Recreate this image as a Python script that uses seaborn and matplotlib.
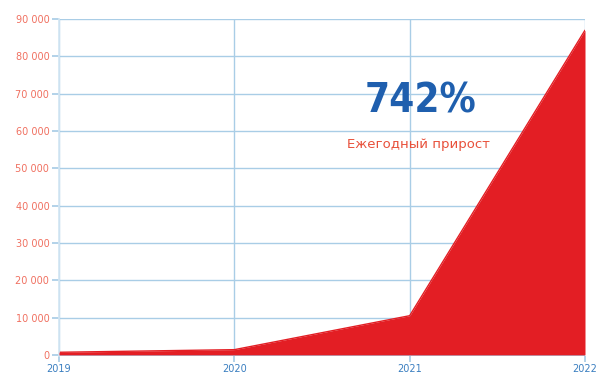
import matplotlib
matplotlib.use("Agg")
import matplotlib.pyplot as plt
import seaborn as sns
import pandas as pd
from matplotlib.ticker import FuncFormatter

years = [2019, 2020, 2021, 2022]
values = [700, 1400, 10500, 87000]
y_ticks = [0, 10000, 20000, 30000, 40000, 50000, 60000, 70000, 80000, 90000]
headline = "742%"
subtitle = "Ежегодный прирост"

df = pd.DataFrame({"year": years, "value": values})

sns.set_theme(style="white")
plt.rcParams['font.family'] = ['DejaVu Sans']

fig = plt.figure(figsize=(5.99, 3.83), dpi=100)
ax = fig.add_axes([59/599, 1 - 356/383, (585-59)/599, (356-19)/383])

grid_c = "#a9cde6"
red = "#e31e24"

sns.lineplot(data=df, x="year", y="value", ax=ax, color=red, linewidth=1)
ax.fill_between(df["year"], df["value"], 0, color=red, linewidth=0, zorder=3)

ax.set_xlim(2019, 2022)
ax.set_ylim(-300, 90000)
ax.set_xticks(years)
ax.set_yticks(y_ticks)
ax.yaxis.set_major_formatter(FuncFormatter(lambda v, p: f"{int(v):,}".replace(",", " ")))
ax.grid(True, color=grid_c, linewidth=1)
ax.set_axisbelow(True)
for s in ax.spines.values():
    s.set_visible(False)
ax.spines["left"].set_visible(True)
ax.spines["left"].set_color("#d3e6f3")
ax.tick_params(axis="y", length=5, color=grid_c, labelsize=7, labelcolor="#f07060", pad=2)
ax.tick_params(axis="x", length=4, color=grid_c, labelsize=7, labelcolor="#3a7ec0", pad=2, direction="out")
ax.tick_params(axis="both", which="both", left=True, bottom=True)
ax.set_xlabel("")
ax.set_ylabel("")

ax.text(2021.06, 68000, headline, color="#1f5fae", fontsize=29, fontweight="bold",
        fontstretch="condensed", ha="center", va="center", zorder=5)
ax.text(2021.05, 56500, subtitle, color="#e8503a", fontsize=9.5,
        ha="center", va="center", zorder=5)

fig.savefig("out.png", dpi=100)
